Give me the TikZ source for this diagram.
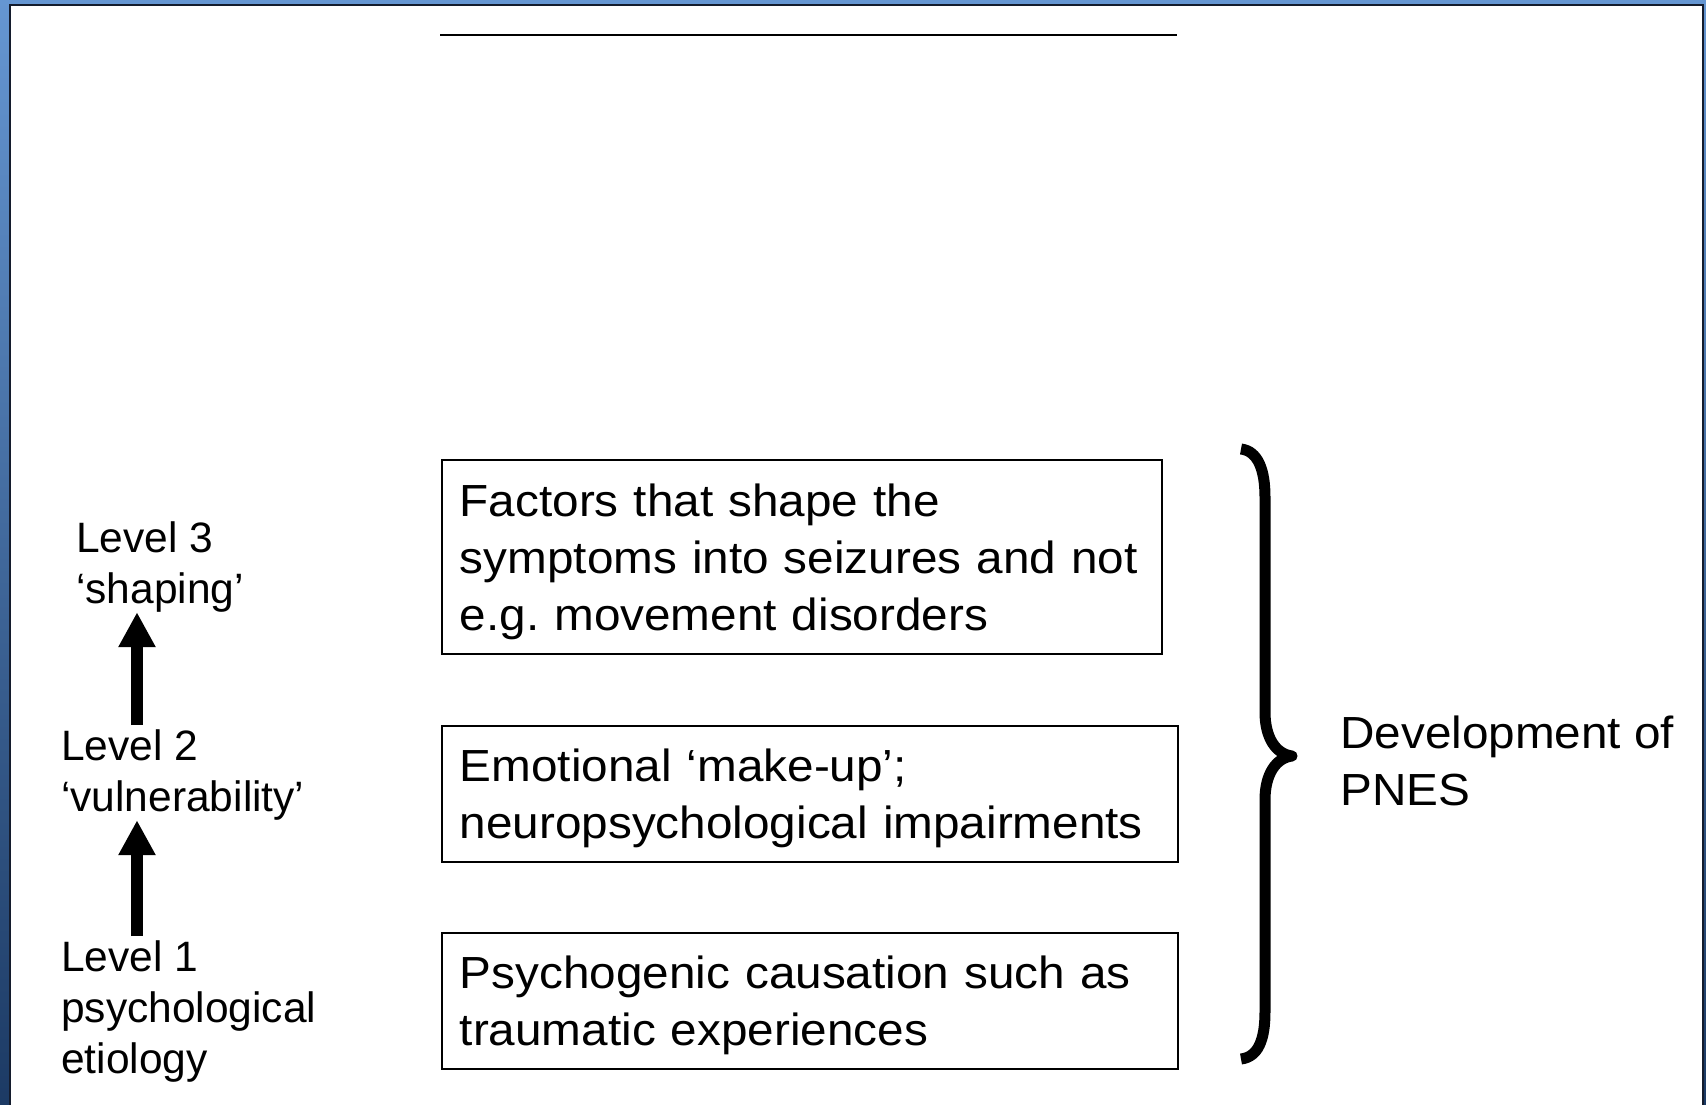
\documentclass[tikz,border=0pt]{standalone}
\usepackage{fontspec}
\setmainfont{Liberation Sans}
\newfontfamily\widefont{Liberation Sans}[FakeStretch=1.06]
\usetikzlibrary{arrows.meta}
\definecolor{bgtop}{RGB}{101,150,210}
\definecolor{bgbot}{RGB}{28,58,100}
\definecolor{framec}{RGB}{20,28,45}
\frenchspacing
\begin{document}
\begin{tikzpicture}[x=1pt,y=-1pt,
  boxnode/.style={draw=black, line width=1.6pt, rectangle, anchor=north west,
    align=left, inner xsep=18pt, inner ysep=0pt,
    font=\widefont\fontsize{45}{57}\selectfont},
  lvl/.style={anchor=north west, align=left, inner sep=0pt,
    font=\fontsize{42.5}{51}\selectfont},
  uparrow/.style={line width=12pt, -{Triangle[length=35pt,width=35pt]}},
  bracestyle/.style={line width=11pt, line join=round, line cap=butt},
  ]
\useasboundingbox (0,0) rectangle (1706,1105);
% slide background and panel
\shade[top color=bgtop, bottom color=bgbot] (0,0) rectangle (1706,1105);
\fill[white] (10,5) rectangle (1703,1110);
\draw[framec, line width=2pt] (10,1110) -- (10,5) -- (1703,5) -- (1703,1110);

% top rule
\draw[line width=1.6pt] (440,35) -- (1177,35);

% boxes
\node[boxnode, minimum width=720pt, minimum height=194pt, text width=684pt] (b1) at (441,459)
  {\rule{0pt}{44pt}Factors that shape the\\symptoms into seizures and not\\e.g. movement disorders\rule[-11pt]{0pt}{11pt}};
\node[boxnode, minimum width=736pt, minimum height=136pt, text width=700pt] (b2) at (441,725)
  {\rule{0pt}{44pt}Emotional ‘make-up’;\\neuropsychological impairments\rule[-11pt]{0pt}{11pt}};
\node[boxnode, minimum width=736pt, minimum height=136pt, text width=700pt] (b3) at (441,932)
  {\rule{0pt}{44pt}Psychogenic causation such as\\traumatic experiences\rule[-11pt]{0pt}{11pt}};

% level labels
\node[lvl] (l3) at (76,517) {\rule{0pt}{35pt}Level 3\\‘shaping’};
\node[lvl] (l2) at (61,725) {\rule{0pt}{35pt}Level 2\\‘vulnerability’};
\node[lvl] (l1) at (61,936) {\rule{0pt}{35pt}Level 1\\psychological\\etiology};

% arrows between levels
\coordinate (ax) at (137,0);
\draw[uparrow] (l2.north -| ax) -- (l3.south -| ax);
\draw[uparrow] (l1.north -| ax) -- (l2.south -| ax);

% brace
\draw[bracestyle] (1241,449) .. controls (1258,451) and (1265,470) .. (1265,497)
  -- (1265,712) .. controls (1265,738) and (1276,754) .. (1292,756)
  .. controls (1276,758) and (1265,774) .. (1265,800)
  -- (1265,1012) .. controls (1265,1040) and (1258,1057) .. (1241,1059);

% right label
\node[anchor=north west, align=left, inner sep=0pt,
  font=\widefont\fontsize{45}{57}\selectfont] (dev) at (1340,704)
  {\rule{0pt}{44pt}Development of\\PNES};
\end{tikzpicture}
\end{document}
